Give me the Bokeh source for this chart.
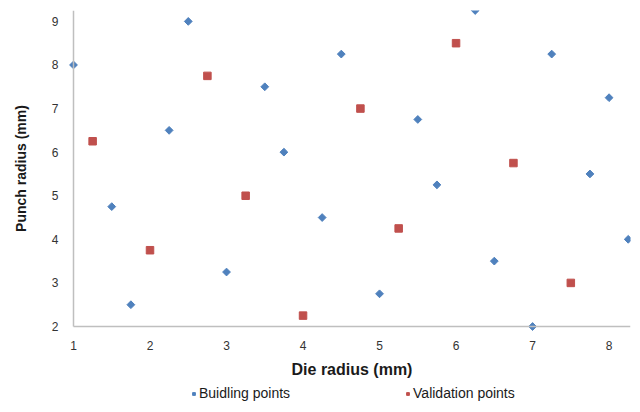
import math
from bokeh.plotting import figure
from bokeh.models import Range1d, Legend, LegendItem, FixedTicker, LinearAxis
from bokeh.embed import file_html
from bokeh.resources import INLINE

build_x = [1, 1.5, 1.75, 2.25, 2.5, 3, 3.5, 3.75, 4.25, 4.5, 5, 5.5, 5.75, 6.25, 6.5, 7, 7.25, 7.75, 8, 8.25]
build_y = [8, 4.75, 2.5, 6.5, 9, 3.25, 7.5, 6, 4.5, 8.25, 2.75, 6.75, 5.25, 9.25, 3.5, 2, 8.25, 5.5, 7.25, 4]
valid_x = [1.25, 2, 2.75, 3.25, 4, 4.75, 5.25, 6, 6.75, 7.5]
valid_y = [6.25, 3.75, 7.75, 5, 2.25, 7, 4.25, 8.5, 5.75, 3]
x_ticks = [1, 2, 3, 4, 5, 6, 7, 8]
y_ticks = [2, 3, 4, 5, 6, 7, 8, 9]

X_MIN, X_MAX = 1, 8.28
Y_MIN, Y_MAX = 2, 9.25
# frame covers the whole figure; axes are pinned at (X_MIN, Y_MIN)
px_x = 557 / (X_MAX - X_MIN)
x_low = X_MIN - 73 / px_x
px_y = 316 / (Y_MAX - Y_MIN)
y_low = Y_MIN - 78 / px_y

p = figure(width=632, height=404, output_backend="svg", toolbar_location=None,
           x_range=Range1d(x_low, X_MAX), y_range=Range1d(y_low, Y_MAX),
           min_border_left=0, min_border_right=2, min_border_top=10, min_border_bottom=0,
           x_axis_location=None, y_axis_location=None)
p.outline_line_color = None
p.xgrid.grid_line_color = None
p.ygrid.grid_line_color = None

r1 = p.scatter(build_x, build_y, marker="square", size=5.5, angle=math.pi / 4,
               color="#4F81BD")
r2 = p.scatter(valid_x, valid_y, marker="square", size=7.5, color="#C0504D")

xax = LinearAxis(fixed_location=Y_MIN)
yax = LinearAxis(fixed_location=X_MIN)
p.add_layout(xax, "below")
p.add_layout(yax, "left")

for ax in (xax, yax):
    ax.axis_line_color = "#BFBFBF"
    ax.axis_line_width = 1.5
    ax.major_tick_line_color = None
    ax.minor_tick_line_color = None
    ax.major_label_text_font = "Liberation Sans"
    ax.major_label_text_font_size = "12px"
    ax.major_label_text_color = "#333333"
    ax.axis_label_text_font = "Liberation Sans"
    ax.axis_label_text_font_style = "bold"
    ax.axis_label_text_color = "#1a1a1a"

xax.axis_label_text_font_size = "16px"
yax.axis_label_text_font_size = "14px"
xax.ticker = FixedTicker(ticks=x_ticks)
yax.ticker = FixedTicker(ticks=y_ticks)
xax.bounds = (X_MIN, X_MAX)
yax.bounds = (Y_MIN, Y_MAX)
xax.axis_label = "Die radius (mm)"
yax.axis_label = "Punch radius (mm)"
xax.major_label_standoff = 8
yax.major_label_standoff = 9
xax.axis_label_standoff = 8
yax.axis_label_standoff = 20

legend = Legend(items=[LegendItem(label="Buidling points", renderers=[r1]),
                       LegendItem(label="Validation points", renderers=[r2])],
                orientation="horizontal", location=(190, 3),
                spacing=114, glyph_width=7, glyph_height=7, label_standoff=2,
                label_text_font="Liberation Sans", label_text_font_size="14px",
                label_text_color="#1a1a1a", border_line_color=None,
                background_fill_alpha=0, padding=0, margin=0)
p.add_layout(legend)

open("out.html", "w").write(file_html(p, INLINE))
